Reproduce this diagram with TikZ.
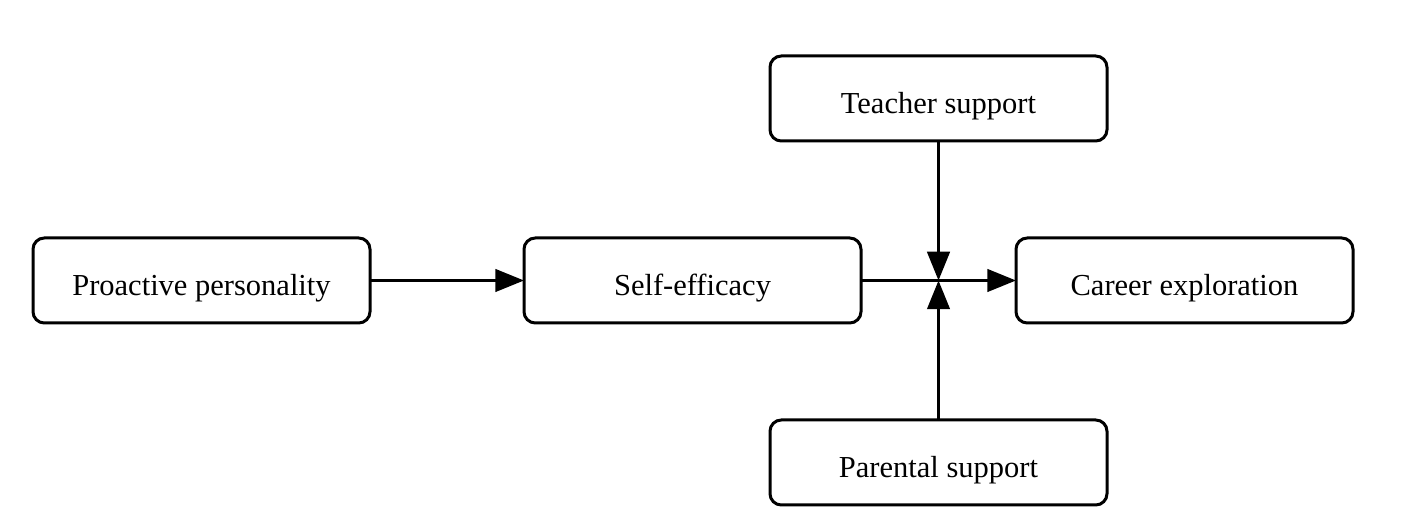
\documentclass[tikz,border=0pt]{standalone}
\usepackage{fontspec}
\setmainfont{Liberation Serif}
\usetikzlibrary{arrows.meta, positioning, calc}

\begin{document}
\begin{tikzpicture}[
    font=\fontsize{12.2}{14}\selectfont,
    varbox/.style={rectangle, draw, line width=1.2pt, rounded corners=4.5pt,
        minimum width=134.8pt, minimum height=34pt, inner sep=0pt, outer sep=0pt,
        text height=12.5pt, text depth=0.5pt},
    arrow/.style={-{Triangle[length=11.5pt, width=9pt]}, line width=1.2pt}
]
\useasboundingbox (0,0) rectangle (564.4pt,-212.8pt);
\node[varbox] (pro) at (80.6pt,-112.2pt) {Proactive personality};
\node[varbox, right=61.6pt of pro] (self) {Self-efficacy};
\node[varbox, right=62pt of self] (career) {Career exploration};
\coordinate (mid) at ($(self.east)!0.5!(career.west)$);
\node[varbox, above=55.8pt of mid] (teacher) {Teacher support};
\node[varbox, below=55.8pt of mid] (parent) {Parental support};
\draw[arrow] (pro) -- (self);
\draw[arrow] (self) -- (career);
\draw[arrow] (teacher) -- (mid);
\draw[arrow] (parent) -- (mid);
\end{tikzpicture}
\end{document}
